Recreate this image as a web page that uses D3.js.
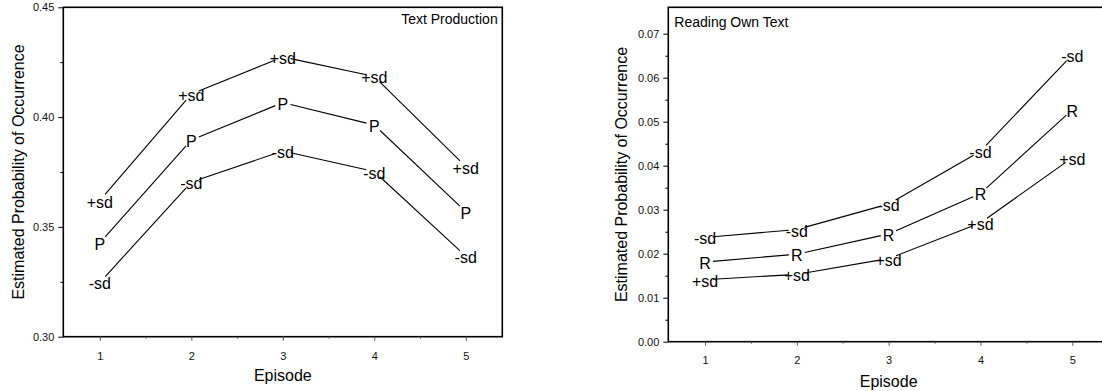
<!DOCTYPE html>
<html>
<head>
<meta charset="utf-8">
<script src="https://cdn.jsdelivr.net/npm/d3@7"></script>
<style>
  body { margin: 0; background: #fff; }
  svg { display: block; font-family: "Liberation Sans", Arial, sans-serif; }
  .tick text { fill: #111; }
</style>
</head>
<body>
<svg id="chart"></svg>
<script>
// episodes on the x axis
const episodes = [1, 2, 3, 4, 5];

// Text Production panel
const prodPlusSd = [0.3620, 0.4105, 0.4274, 0.4185, 0.3775];
const prodP = [0.3427, 0.3896, 0.4066, 0.3964, 0.3570];
const prodMinusSd = [0.3247, 0.3704, 0.3846, 0.3752, 0.3367];
const prodTicks = [0.30, 0.35, 0.40, 0.45];
const prodMinor = [0.325, 0.375, 0.425];

// Reading Own Text panel
const readMinusSd = [0.0237, 0.0255, 0.0313, 0.0433, 0.0652];
const readR = [0.0181, 0.0199, 0.0245, 0.0337, 0.0527];
const readPlusSd = [0.0141, 0.0153, 0.0189, 0.0270, 0.0418];
const readTicks = [0.00, 0.01, 0.02, 0.03, 0.04, 0.05, 0.06, 0.07];
const readMinor = [0.005, 0.015, 0.025, 0.035, 0.045, 0.055, 0.065];

const width = 1102;
const height = 391;

const svg = d3.select("#chart")
  .attr("width", width)
  .attr("height", height);

function drawPanel(p) {
  const g = svg.append("g");

  const x = d3.scaleLinear().domain([0.6, 5.4]).range([p.left, p.right]);
  const y = d3.scaleLinear().domain(p.yDomain).range([p.bottom, p.top]);

  // frame
  g.append("rect")
    .attr("x", p.left)
    .attr("y", p.top)
    .attr("width", p.right - p.left)
    .attr("height", p.bottom - p.top)
    .attr("fill", "none")
    .attr("stroke", "#000")
    .attr("stroke-width", 1.6);

  // y axis
  const yAxis = g.append("g")
    .attr("transform", `translate(${p.left},0)`)
    .call(d3.axisLeft(y).tickValues(p.ticks).tickSize(5).tickSizeOuter(0)
      .tickPadding(4).tickFormat(d3.format(".2f")));
  yAxis.select(".domain").remove();
  yAxis.selectAll("text").style("font-size", "11px");

  const yMinor = g.append("g")
    .attr("transform", `translate(${p.left},0)`)
    .call(d3.axisLeft(y).tickValues(p.minor).tickSize(3).tickFormat(""));
  yMinor.select(".domain").remove();

  // x axis
  const xAxis = g.append("g")
    .attr("transform", `translate(0,${p.bottom})`)
    .call(d3.axisBottom(x).tickValues(episodes).tickSize(4).tickSizeOuter(0)
      .tickPadding(p.xPad).tickFormat(d3.format("d")));
  xAxis.select(".domain").remove();
  xAxis.selectAll("line").attr("stroke", "#555");
  xAxis.selectAll("text").style("font-size", "11px");

  const xMinor = g.append("g")
    .attr("transform", `translate(0,${p.bottom})`)
    .call(d3.axisBottom(x).tickValues([1.5, 2.5, 3.5, 4.5]).tickSize(2).tickFormat(""));
  xMinor.select(".domain").remove();
  xMinor.selectAll("line").attr("stroke", "#555");

  // axis titles
  g.append("text")
    .attr("transform", "rotate(-90)")
    .attr("x", -(p.top + p.bottom) / 2)
    .attr("y", p.yTitleX)
    .attr("text-anchor", "middle")
    .style("font-size", "16px")
    .text("Estimated Probability of Occurrence");

  g.append("text")
    .attr("x", (p.left + p.right) / 2)
    .attr("y", p.xTitleY)
    .attr("text-anchor", "middle")
    .style("font-size", "16px")
    .text("Episode");

  // panel title
  g.append("text")
    .attr("x", p.titleX)
    .attr("y", p.titleY)
    .attr("text-anchor", p.titleAnchor)
    .style("font-size", "14px")
    .text(p.title);

  // series: lines broken around each label
  const gap = 8;
  p.series.forEach(s => {
    const pts = episodes.map((e, i) => [x(e), y(s.values[i])]);
    for (let i = 0; i < pts.length - 1; i++) {
      const [x0, y0] = pts[i];
      const [x1, y1] = pts[i + 1];
      const len = Math.hypot(x1 - x0, y1 - y0);
      const ux = (x1 - x0) / len, uy = (y1 - y0) / len;
      g.append("line")
        .attr("x1", x0 + ux * gap)
        .attr("y1", y0 + uy * gap)
        .attr("x2", x1 - ux * gap)
        .attr("y2", y1 - uy * gap)
        .attr("stroke", "#000")
        .attr("stroke-width", 1.1);
    }
    g.selectAll(null)
      .data(pts)
      .enter()
      .append("text")
        .attr("x", d => d[0])
        .attr("y", d => d[1] + 7)
        .attr("text-anchor", "middle")
        .style("font-size", "16px")
        .text(s.label);
  });
}

drawPanel({
  left: 63.3, right: 502.3, top: 7.3, bottom: 336.7,
  yDomain: [0.30, 0.45],
  ticks: prodTicks, minor: prodMinor,
  xPad: 11.5,
  yTitleX: 23.5, xTitleY: 381,
  title: "Text Production", titleX: 497.7, titleY: 24, titleAnchor: "end",
  series: [
    { label: "+sd", values: prodPlusSd },
    { label: "P", values: prodP },
    { label: "-sd", values: prodMinusSd }
  ]
});

drawPanel({
  left: 668.3, right: 1109, top: 7.3, bottom: 341.7,
  yDomain: [0, 0.076],
  ticks: readTicks, minor: readMinor,
  xPad: 10.5,
  yTitleX: 627, xTitleY: 386.5,
  title: "Reading Own Text", titleX: 674.3, titleY: 26.5, titleAnchor: "start",
  series: [
    { label: "-sd", values: readMinusSd },
    { label: "R", values: readR },
    { label: "+sd", values: readPlusSd }
  ]
});
</script>
</body>
</html>
